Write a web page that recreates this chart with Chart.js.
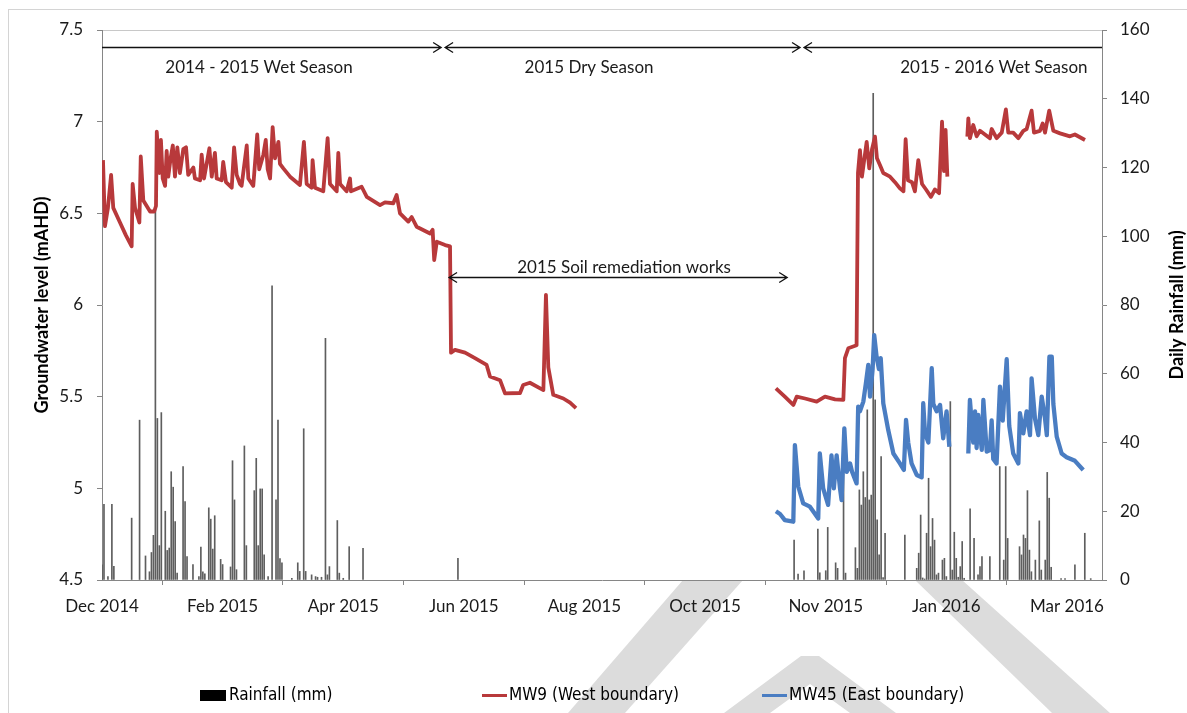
<!DOCTYPE html>
<html>
<head>
<meta charset="utf-8">
<title>Groundwater level and daily rainfall</title>
<script src="https://cdn.jsdelivr.net/npm/chart.js@4.4.1/dist/chart.umd.min.js"></script>
<style>
  html, body { margin: 0; padding: 0; background: #ffffff; }
  #wrap { position: relative; width: 1187px; height: 713px; }
</style>
</head>
<body>
<div id="wrap"><canvas id="chart" width="1187" height="713"></canvas></div>
<script>
// Horizontal position of every value is the number of days since 1 Dec 2014.

// Axis ticks (one every 61 days)
const tickLabels = ['Dec 2014', 'Feb 2015', 'Apr 2015', 'Jun 2015', 'Aug 2015',
                    'Oct 2015', 'Nov 2015', 'Jan 2016', 'Mar 2016'];
const tickStepDays = 61;

// Daily rainfall (mm)
const rainDays = [0, 1, 3, 5, 6, 15, 19, 22, 24, 25, 26, 27, 28, 29, 30, 32, 33, 34, 35, 36, 37, 38,
  41, 42, 43, 46, 49, 50, 51, 52, 54, 55, 56, 57, 60, 61, 65, 66, 67, 68, 72, 73, 77, 78, 79, 80,
  81, 82, 84, 86, 88, 89, 90, 91, 96, 99, 100, 102, 103, 106, 108, 109, 111, 113, 114, 115, 119,
  120, 122, 125, 132, 180,
  350, 352, 355, 362, 363, 366, 367, 371, 372, 375, 376, 381, 382, 383, 384, 385, 386, 387, 388,
  389, 390, 391, 392, 393, 394, 395, 396, 406, 412, 413, 414, 415, 416, 417, 418, 419, 420, 421,
  422, 423, 425, 426, 427, 429, 430, 431, 432, 433, 434, 435, 436, 439, 441, 443, 444, 445, 449,
  454, 456, 457, 458, 464, 465, 466, 467, 468, 469, 470, 472, 474, 475, 477, 478, 479, 480, 485,
  487, 492, 497, 500];
const rainMm = [4.4, 22, 1, 22, 4, 18, 46.5, 7, 2.4, 8, 13, 108, 47, 10, 48.7, 20, 8.6, 9.3, 31.5, 27, 17, 2,
  33, 22.8, 6.8, 4.5, 1, 9.6, 2.4, 1.8, 21, 17.7, 9, 18.7, 6, 4.5, 3.8, 34.7, 23.3, 3, 39, 10, 26, 35.4, 10, 26.5,
  26.5, 7.3, 1, 85.6, 23.3, 46.5, 6.2, 5, 0.5, 5, 2.5, 44, 2.5, 1.5, 1, 0.8, 0.8, 70.3, 1.5, 3.9, 17.3,
  2, 0.5, 9.7, 9.2, 6.3,
  11.6, 1.7, 2.7, 14.8, 2.1, 2.7, 15.3, 5, 3.4, 43.6, 2, 9.4, 3.4, 26.2, 21.8, 31.5, 24, 49.5, 23.3,
  24.7, 141.6, 52.4, 17.5, 7.3, 35.9, 0.7, 13.6, 13.1, 3.4, 7.8, 18.9, 0.6, 0.3, 13.6, 29.6, 9.7, 17.9, 11.6,
  1.5, 2, 5.8, 6.3, 1, 51.9, 2.9, 13.9, 6.3, 0.8, 3.9, 11.2, 0.5, 20.7, 12.1, 1.5, 3.9, 6.8, 6.8,
  33, 5.8, 33, 12.1, 9.7, 7.3, 13.1, 12.1, 26, 8.7, 2.4, 5.8, 17.2, 2.9, 5.8, 31.3, 23.8, 3.7, 0.4,
  0.4, 4.4, 13.6, 0.4];

// MW9 (West boundary) groundwater level (mAHD); null marks a logging gap
const mw9Days = [0.5, 1.5, 3, 4.6, 5.7, 9.1, 12.1, 15, 15.5, 16.7, 18.9, 19.6, 20.9, 24.3, 26.4, 27.3,
  27.7, 29, 29.8, 30.7, 31.9, 32.7, 33.5, 34.7, 35.8, 36.9, 38.1, 39.4, 41.1, 42.5, 43.6, 46.2, 47,
  49.6, 50.4, 51.6, 54.3, 55.5, 57.1, 58, 60.5, 61.3, 62.7, 65.6, 66.8, 68.1, 69.8, 70.6, 73.2, 74,
  76.5, 78.5, 79.5, 81.6, 82.8, 83.8, 85, 86.3, 87.5, 89.2, 90, 91.7, 95.1, 100.1, 102.1, 103.5, 106,
  106.5, 107.7, 111.9, 114.1, 115.3, 118.7, 119.5, 120.4, 123.7, 125.4, 125.9, 131.3, 133.9, 140.6,
  143.1, 147.3, 149, 150.7, 154.9, 156.6, 159.1, 165.9, 167.2, 168, 169.3, 173.5, 176, 176.5, 178.5,
  183.6, 188.6, 194.5, 196.2, 201.3, 203.8, 211.4, 213, 216.4, 223.2, 224.5, 225.7, 228.2, 233.3,
  236.7, 239.7, 240.5,
  340.8, 345.3, 349.6, 351.3, 355.5, 361.4, 365.6, 370.7, 374.9, 375.7, 377.4, 381.6, 382.3, 383.3,
  384.3, 386.7, 388, 389.4, 390.9, 391.9, 393.4, 395.1, 398.5, 401, 403.5, 405.3, 406.4, 407.6, 409.6,
  411.1, 412.8, 414.7, 416.7, 419.2, 421.2, 423.3, 424.8, 425.8, 426.6, 427.5, 432,
  437.6, 438.1, 438.9, 440.6, 442.3, 444, 446.5, 449, 449.9, 452.4, 455, 457.1, 458.3, 460.8, 463.4,
  465.9, 467.6, 470.1, 471.3, 474.3, 475.7, 476.9, 479, 481.1, 484.5, 489.5, 492, 497.1];
const mw9Level = [6.79, 6.43, 6.53, 6.71, 6.53, 6.45, 6.38, 6.32, 6.66, 6.53, 6.45, 6.81, 6.57, 6.51, 6.51, 6.54,
  6.945, 6.72, 6.9, 6.69, 6.65, 6.84, 6.70, 6.80, 6.87, 6.70, 6.86, 6.72, 6.85, 6.86, 6.71, 6.75, 6.69,
  6.68, 6.82, 6.69, 6.855, 6.70, 6.83, 6.69, 6.68, 6.78, 6.67, 6.64, 6.86, 6.71, 6.66, 6.65, 6.87, 6.69,
  6.65, 6.93, 6.74, 6.82, 6.90, 6.74, 6.69, 6.97, 6.80, 6.89, 6.77, 6.745, 6.70, 6.655, 6.89, 6.66, 6.64,
  6.79, 6.64, 6.62, 6.91, 6.66, 6.62, 6.83, 6.66, 6.62, 6.69, 6.62, 6.645, 6.59, 6.545,
  6.56, 6.555, 6.60, 6.50, 6.455, 6.48, 6.427, 6.39, 6.41, 6.245, 6.345, 6.327, 6.32, 5.74, 5.755,
  5.74, 5.71, 5.673, 5.61, 5.59, 5.518, 5.52, 5.564, 5.576, 5.536, 6.055, 5.66, 5.51, 5.49,
  5.467, 5.437, null,
  5.545, 5.50, 5.455, 5.50, 5.49, 5.473, 5.50, 5.485, 5.482, 5.71, 5.764, 5.78, 6.72, 6.845,
  6.70, 6.89, 6.745, 6.85, 6.918, 6.80, 6.764, 6.72, 6.70, 6.67, 6.636, 6.62, 6.904, 6.68, 6.67,
  6.62, 6.79, 6.66, 6.63, 6.59, 6.63, 6.61, 7.0, 6.73, 6.955, 6.70, null,
  6.918, 7.018, 6.91, 6.982, 6.92, 6.95, 6.93, 6.909, 6.96, 6.91, 6.94, 7.067, 6.94, 6.94, 6.91,
  6.95, 6.96, 7.06, 6.94, 6.95, 6.99, 6.94, 7.06, 6.95, 6.936, 6.92, 6.93, 6.90];

// MW45 (East boundary) groundwater level (mAHD); null marks a logging gap
const mw45Days = [340.8, 342.9, 345.3, 349.6, 350.4, 352.1, 354.6, 358, 362.2, 363, 364.7, 367.2, 368.9,
  370.1, 371.5, 373.2, 374, 375.4, 376.6, 378.3, 379.3, 381.6, 382.4, 383.3, 385, 386.3, 387.5, 388.4,
  389.7, 390.5, 391.7, 392.9, 393.8, 395.1, 397.6, 400.2, 403.5, 405.5, 406.6, 407.7, 409.4, 412,
  414.5, 415.3, 416.2, 417.9, 419.6, 420.4, 422.1, 423.8, 425.4, 427.1, 428.5, 433,
  438.1, 438.9, 440.6, 441.5, 442.3, 443.1, 444.9, 445.7, 447.4, 449, 449.9, 450.7, 452.4, 454.1,
  455.5, 457.5, 458.8, 460.8, 463.4, 464.2, 465.9, 467.6, 469.3, 470.1, 471.8, 473.5, 475.2, 476.9,
  477.8, 479.1, 480.3, 481.1, 482.8, 485.3, 487.8, 492, 496.2];
const mw45Level = [4.875, 4.86, 4.827, 4.818, 5.236, 5.01, 4.918, 4.90, 4.836, 5.19, 5.00, 4.91, 5.18,
  5.00, 5.18, 5.00, 4.936, 5.327, 5.09, 5.136, 5.09, 5.027, 5.445, 5.42, 5.473, 5.573, 5.673, 5.50,
  5.65, 5.836, 5.718, 5.65, 5.71, 5.464, 5.318, 5.19, 5.136, 5.10, 5.373, 5.25, 5.136, 5.073,
  5.06, 5.464, 5.30, 5.25, 5.655, 5.46, 5.42, 5.455, 5.273, 5.42, 5.227, null,
  5.19, 5.482, 5.25, 5.42, 5.22, 5.40, 5.21, 5.482, 5.20, 5.209, 5.37, 5.16, 5.136, 5.555,
  5.37, 5.704, 5.34, 5.19, 5.136, 5.41, 5.30, 5.42, 5.29, 5.60, 5.38, 5.29, 5.50, 5.38,
  5.29, 5.718, 5.718, 5.46, 5.282, 5.19, 5.17, 5.15, 5.10];

// Season spans [start day, end day, arrow head at start, arrow head at end] and their captions
const seasonSpans = [[0, 171.5, false, true], [173.5, 353, true, true], [355, 505.7, true, false]];
const seasonCaptions = ['2014 - 2015 Wet Season', '2015 Dry Season', '2015 - 2016 Wet Season'];
const seasonCaptionDays = [79.4, 246.3, 451];
const remediationSpan = [175.5, 346.5];
const remediationCaption = '2015 Soil remediation works';
const remediationCaptionDay = 264;

const FONT = 'Lato, "Open Sans", "Liberation Sans", sans-serif';
const LEGEND_FONT = '"Liberation Sans Narrow", "DejaVu Sans Condensed", Lato, sans-serif';
const AXIS_GREY = '#868686';
const TEXT = '#1a1a1a';
const COLORS = { rain: '#5e5e5e', mw9: '#B8393B', mw45: '#4A7DC2' };

// faint page watermark strokes (canvas pixels); the white plot area covers the parts above the axis
const WATERMARK = [
  [[683, 580], [743, 580], [625, 713], [568, 713]],
  [[724, 713], [801, 656], [819, 656], [896, 713], [850, 713], [810, 684], [770, 713]],
  [[915, 580], [962, 580], [1110, 713], [1052, 713]]
];

Chart.defaults.font.family = FONT;
Chart.defaults.font.size = 17;
Chart.defaults.color = TEXT;

function pairs(xs, ys) { return xs.map((x, i) => ({ x: x, y: ys[i] })); }
function plainNumber(v) { return String(Math.round(v * 10) / 10); }

function drawArrow(ctx, x1, x2, y, headStart, headEnd) {
  const hx = 8, hy = 5;
  ctx.beginPath();
  ctx.moveTo(x1, y); ctx.lineTo(x2, y);
  if (headStart) { ctx.moveTo(x1 + hx, y - hy); ctx.lineTo(x1, y); ctx.lineTo(x1 + hx, y + hy); }
  if (headEnd) { ctx.moveTo(x2 - hx, y - hy); ctx.lineTo(x2, y); ctx.lineTo(x2 - hx, y + hy); }
  ctx.stroke();
}

const decorations = {
  id: 'decorations',
  beforeDraw(chart) {
    const { ctx, chartArea: a } = chart;
    ctx.save();
    // watermark behind everything
    ctx.fillStyle = '#dcdcdc';
    WATERMARK.forEach(poly => {
      ctx.beginPath();
      poly.forEach(([px, py], i) => (i ? ctx.lineTo(px, py) : ctx.moveTo(px, py)));
      ctx.closePath();
      ctx.fill();
    });
    // white plot area
    ctx.fillStyle = '#ffffff';
    ctx.fillRect(a.left, a.top, a.right - a.left, a.bottom - a.top);
    // outer frame
    ctx.strokeStyle = '#d4d4d4';
    ctx.lineWidth = 1;
    ctx.strokeRect(8.5, 9.5, 1400, 900);
    // top edge of the plot area
    ctx.strokeStyle = '#c8c8c8';
    ctx.beginPath();
    ctx.moveTo(a.left, a.top + 0.5); ctx.lineTo(a.right, a.top + 0.5);
    ctx.stroke();
    ctx.restore();
  },
  afterDraw(chart) {
    const { ctx, chartArea: a, scales } = chart;
    const x = scales.x, yl = scales.yLevel;
    ctx.save();
    ctx.strokeStyle = '#111';
    ctx.lineWidth = 1.3;
    ctx.fillStyle = TEXT;
    ctx.font = '17px ' + FONT;
    ctx.textAlign = 'center';
    ctx.textBaseline = 'middle';

    // season arrows and captions
    const seasonY = Math.round(yl.getPixelForValue(7.407)) + 0.5;
    seasonSpans.forEach(([d1, d2, h1, h2]) => {
      drawArrow(ctx, x.getPixelForValue(d1), x.getPixelForValue(d2), seasonY, h1, h2);
    });
    const captionY = yl.getPixelForValue(7.293);
    seasonCaptions.forEach((t, i) => ctx.fillText(t, x.getPixelForValue(seasonCaptionDays[i]), captionY));

    // remediation works span
    const remY = Math.round(yl.getPixelForValue(6.153)) + 0.5;
    drawArrow(ctx, x.getPixelForValue(remediationSpan[0]), x.getPixelForValue(remediationSpan[1]), remY, true, true);
    ctx.fillText(remediationCaption, x.getPixelForValue(remediationCaptionDay), yl.getPixelForValue(6.207));

    // axis titles (both read bottom to top)
    const midY = (a.top + a.bottom) / 2;
    ctx.font = 'bold 18px ' + FONT;
    ctx.fillStyle = '#000';
    [[42, 'Groundwater level (mAHD)'], [1177, 'Daily Rainfall (mm)']].forEach(([cx, t]) => {
      ctx.save();
      ctx.translate(cx, midY);
      ctx.rotate(-Math.PI / 2);
      ctx.fillText(t, 0, 0);
      ctx.restore();
    });

    // legend row
    const legendY = 695, legendX = 200, legendPitch = 280;
    ctx.font = '17px ' + LEGEND_FONT;
    ctx.textAlign = 'left';
    chart.data.datasets.forEach((ds, i) => {
      const lx = legendX + i * legendPitch;
      if (ds.type === 'bar') {
        ctx.fillStyle = '#000';
        ctx.fillRect(lx, legendY - 5, 26, 11);
      } else {
        ctx.strokeStyle = ds.borderColor;
        ctx.lineWidth = 3;
        ctx.beginPath();
        ctx.moveTo(lx + 2, legendY + 0.5); ctx.lineTo(lx + 27, legendY + 0.5);
        ctx.stroke();
      }
      ctx.fillStyle = '#000';
      ctx.fillText(ds.label, lx + 29, legendY + 1);
    });
    ctx.restore();
  }
};

const axisGrid = { display: true, drawOnChartArea: false, drawTicks: true, tickLength: 5, color: AXIS_GREY };

new Chart(document.getElementById('chart'), {
  type: 'bar',
  data: {
    datasets: [
      { type: 'bar', label: 'Rainfall (mm)', data: pairs(rainDays, rainMm), yAxisID: 'yRain',
        backgroundColor: COLORS.rain, barThickness: 1, order: 3 },
      { type: 'line', label: 'MW9 (West boundary)', data: pairs(mw9Days, mw9Level), yAxisID: 'yLevel',
        borderColor: COLORS.mw9, borderWidth: 3.8, pointRadius: 0, tension: 0, spanGaps: false,
        borderJoinStyle: 'round', order: 2 },
      { type: 'line', label: 'MW45 (East boundary)', data: pairs(mw45Days, mw45Level), yAxisID: 'yLevel',
        borderColor: COLORS.mw45, borderWidth: 4.3, pointRadius: 0, tension: 0, spanGaps: false,
        borderJoinStyle: 'round', order: 1 }
    ]
  },
  options: {
    responsive: false,
    animation: false,
    events: [],
    layout: { padding: { top: 30, left: 0, right: 0, bottom: 0 } },
    plugins: { legend: { display: false }, tooltip: { enabled: false } },
    scales: {
      x: {
        type: 'linear', min: 0, max: 505.7, offset: false,
        afterBuildTicks: s => { s.ticks = tickLabels.map((_, i) => ({ value: i * tickStepDays })); },
        ticks: { callback: (v, i) => tickLabels[i], autoSkip: false, maxRotation: 0, padding: 11, color: TEXT },
        grid: axisGrid,
        border: { display: true, color: AXIS_GREY, width: 1 },
        afterFit: s => { s.height = 133; }
      },
      yLevel: {
        position: 'left', min: 4.5, max: 7.5,
        ticks: { stepSize: 0.5, padding: 14, color: TEXT, callback: plainNumber },
        grid: axisGrid,
        border: { display: true, color: AXIS_GREY, width: 1 },
        afterFit: s => { s.width = 102; }
      },
      yRain: {
        position: 'right', min: 0, max: 160,
        ticks: { stepSize: 20, padding: 13, color: TEXT, callback: plainNumber },
        grid: axisGrid,
        border: { display: true, color: AXIS_GREY, width: 1 },
        afterFit: s => { s.width = 85; }
      }
    }
  },
  plugins: [decorations]
});
</script>
</body>
</html>
